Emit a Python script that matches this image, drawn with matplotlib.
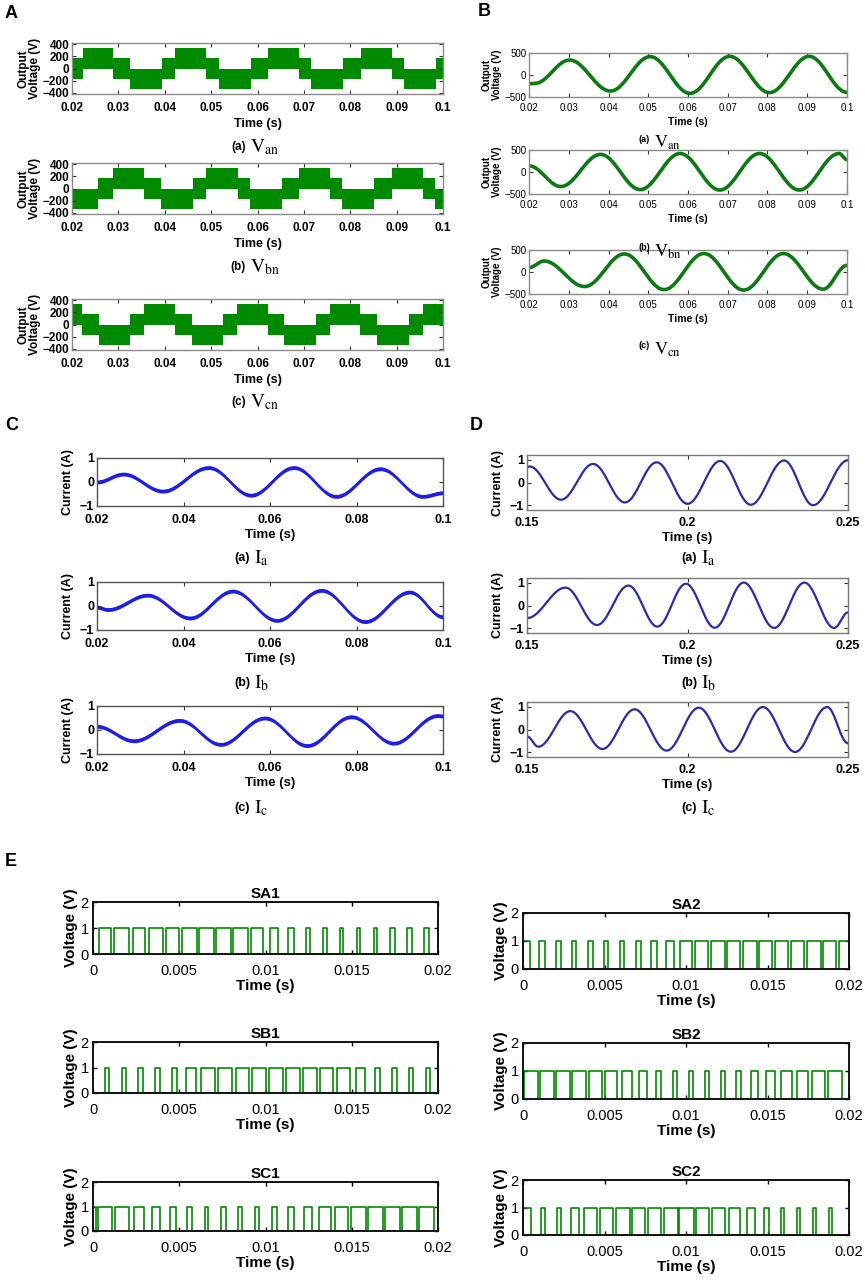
import numpy as np
import matplotlib.pyplot as plt

plt.rcParams['font.family'] = ['Liberation Sans', 'DejaVu Sans']
plt.rcParams['mathtext.fontset'] = 'stix'

W, H = 865, 1286
fig = plt.figure(figsize=(W / 100, H / 100), dpi=100)

# ---- data ------------------------------------------------------------------
# A: multilevel output, band state per segment (1 = top, 0 = middle, -1 = bottom)
band_low = {1: 0, 0: -175, -1: -335}
band_high = {1: 335, 0: 175, -1: 0}
van_edges = [0.02, 0.0223, 0.0289, 0.0325, 0.0393, 0.0422, 0.049, 0.0516, 0.0585,
             0.0623, 0.069, 0.0716, 0.0785, 0.0823, 0.089, 0.0916, 0.0985]
van_states = [0, 1, 0, -1, 0, 1, 0, -1, 0, 1, 0, -1, 0, 1, 0, -1, 0]
vbn_edges = [0.02, 0.0256, 0.0289, 0.0356, 0.0392, 0.046, 0.0489, 0.0557, 0.0583,
             0.0652, 0.069, 0.0757, 0.0783, 0.0852, 0.089, 0.0957, 0.0983]
vbn_states = [-1, 0, 1, 0, -1, 0, 1, 0, -1, 0, 1, 0, -1, 0, 1, 0, -1]
vcn_edges = [0.02, 0.0222, 0.0258, 0.0326, 0.0356, 0.0422, 0.0458, 0.0526, 0.0556,
             0.0622, 0.0658, 0.0726, 0.0756, 0.0822, 0.0858, 0.0926, 0.0956]
vcn_states = [1, 0, -1, 0, 1, 0, -1, 0, 1, 0, -1, 0, 1, 0, -1, 0, 1]

# B: filtered voltages, turning points (time, value)
b_van_t = [0.02, 0.0215, 0.0302, 0.0405, 0.0505, 0.0605, 0.0705, 0.0805, 0.0905, 0.1]
b_van_v = [-200, -190, 340, -365, 417, -417, 424, -400, 424, -394]
b_vbn_t = [0.02, 0.028, 0.038, 0.048, 0.058, 0.068, 0.078, 0.088, 0.098, 0.1]
b_vbn_v = [140, -330, 400, -400, 420, -410, 420, -410, 420, 280]
b_vcn_t = [0.02, 0.0238, 0.034, 0.044, 0.054, 0.064, 0.074, 0.084, 0.094, 0.1]
b_vcn_v = [100, 250, -330, 410, -400, 420, -410, 420, -390, 150]

# C: currents with ripple, turning points
c_ia_t = [0.02, 0.0261, 0.0352, 0.0458, 0.0556, 0.0655, 0.0753, 0.0855, 0.0953, 0.1]
c_ia_v = [0.0, 0.33, -0.38, 0.6, -0.55, 0.6, -0.6, 0.55, -0.6, -0.45]
c_ib_t = [0.02, 0.0225, 0.0317, 0.0415, 0.0514, 0.0616, 0.0719, 0.082, 0.0923, 0.1]
c_ib_v = [-0.05, -0.15, 0.45, -0.5, 0.62, -0.6, 0.65, -0.65, 0.58, -0.45]
c_ic_t = [0.02, 0.0285, 0.0391, 0.0486, 0.0588, 0.0686, 0.0788, 0.0886, 0.0988, 0.1]
c_ic_v = [0.15, -0.45, 0.4, -0.6, 0.5, -0.65, 0.55, -0.55, 0.6, 0.58]
c_ripple = 0.08

# D: steady-state currents, turning points
d_ia_t = [0.15, 0.1508, 0.1606, 0.1706, 0.1805, 0.1904, 0.2, 0.2102, 0.2197, 0.2301, 0.2391, 0.25]
d_ia_v = [0.67, 0.7, -0.75, 0.81, -0.87, 0.88, -0.93, 0.94, -0.97, 0.96, -0.99, 0.97]
d_ib_t = [0.15, 0.162, 0.1718, 0.1816, 0.1906, 0.1995, 0.2085, 0.2175, 0.227, 0.2364, 0.2457, 0.25]
d_ib_v = [-0.55, 0.78, -0.85, 0.87, -0.92, 0.95, -0.97, 1.0, -0.98, 1.0, -0.98, -0.3]
d_ic_t = [0.15, 0.1535, 0.1635, 0.1735, 0.1835, 0.1935, 0.2035, 0.2135, 0.2235, 0.2335, 0.2435, 0.25]
d_ic_v = [-0.3, -0.75, 0.8, -0.85, 0.88, -0.92, 0.95, -0.97, 0.98, -0.98, 0.98, -0.6]

# E: gate pulses, pulse widths in ms, one per carrier period
carrier = 0.00098
sa1_first, sa1_w = 0.0007, [0.67, 0.87, 0.68, 0.81, 0.77, 0.87, 0.86, 0.86, 0.87, 0.67,
                            0.5, 0.39, 0.25, 0.25, 0.19, 0.19, 0.19, 0.25, 0.29, 0.3]
sa2_first, sa2_w = 0.0002, [0.4, 0.4, 0.3, 0.22, 0.3, 0.27, 0.25, 0.3, 0.35, 0.5, 0.7,
                            0.8, 0.88, 0.8, 0.9, 0.8, 0.8, 0.8, 0.85, 0.8, 0.8]
sb1_first, sb1_w = 0.0008, [0.25, 0.25, 0.25, 0.25, 0.25, 0.58, 0.8, 0.8, 0.75, 0.8,
                            0.8, 0.8, 0.8, 0.8, 0.8, 0.55, 0.3, 0.3, 0.2, 0.25]
sb2_first, sb2_w = 0.0005, [0.85, 0.85, 0.85, 0.85, 0.8, 0.75, 0.6, 0.45, 0.3, 0.25,
                            0.22, 0.22, 0.25, 0.3, 0.45, 0.55, 0.65, 0.7, 0.8, 0.85]
sc1_first, sc1_w = -0.00028, [0.9, 0.85, 0.77, 0.62, 0.48, 0.35, 0.29, 0.23, 0.25, 0.23,
                              0.23, 0.29, 0.38, 0.48, 0.67, 0.77, 0.87, 0.9, 0.9, 0.9, 0.9]
sc2_first, sc2_w = 0.00025, [0.5, 0.3, 0.3, 0.5, 0.8, 0.8, 0.9, 0.8, 0.8, 0.9, 0.9, 0.8,
                             0.8, 0.7, 0.5, 0.3, 0.2, 0.2, 0.2, 0.2]

green = '#008a00'
dgreen = '#0b7a12'
blue = '#1e1ee6'
navy = '#2b2ba8'


def px_axes(x0, y0, x1, y1):
    return fig.add_axes([x0 / W, 1 - y1 / H, (x1 - x0) / W, (y1 - y0) / H])


def smooth(tk, vk, n=60):
    ts, vs = [], []
    for i in range(len(tk) - 1):
        s = np.linspace(0, 1, n, endpoint=False)
        ts.append(tk[i] + (tk[i + 1] - tk[i]) * s)
        vs.append(vk[i] + (vk[i + 1] - vk[i]) * (1 - np.cos(np.pi * s)) / 2)
    ts.append([tk[-1]])
    vs.append([vk[-1]])
    return np.concatenate(ts), np.concatenate(vs)


def pulses(first, widths, t_end=0.02):
    xs, ys = [0.0], [0.0]
    for k, w in enumerate(widths):
        c = first + k * carrier
        r = max(c - w * 5e-4, 0.0)
        f = min(c + w * 5e-4, t_end)
        xs += [r, r, f, f]
        ys += [0, 1, 1, 0]
    xs.append(t_end)
    ys.append(0)
    return xs, ys


def style(ax, edge, tick_size, xpad, weight='bold'):
    for s in ax.spines.values():
        s.set_color(edge)
        s.set_linewidth(1.0)
    ax.tick_params(direction='in', top=True, right=True, length=3, width=0.8,
                   color='#333333', labelsize=tick_size, pad=2)
    ax.tick_params(axis='x', pad=xpad)
    for lab in ax.get_xticklabels() + ax.get_yticklabels():
        lab.set_fontweight(weight)


def caption(x, y, tag, sym, sub, tag_size=8.5, sym_size=14, raise_tag=0):
    fig.text(x / W, 1 - (y - raise_tag) / H, tag, ha='right', va='center',
             fontsize=tag_size, fontweight='bold')
    fig.text((x + 4) / W, 1 - y / H, r'$\mathrm{' + sym + '}_{\mathrm{' + sub + '}}$',
             ha='left', va='center', fontsize=sym_size)


# ---- panel A ---------------------------------------------------------------
a_rows = [(43, 94, van_edges, van_states, '(a)', 'an', 147),
          (163, 214, vbn_edges, vbn_states, '(b)', 'bn', 267),
          (299, 350, vcn_edges, vcn_states, '(c)', 'cn', 402)]
for top, bot, edges, states, tag, sub, cy in a_rows:
    ax = px_axes(72, top, 443, bot)
    x = list(edges) + [0.1]
    lo = [band_low[s] for s in states] + [band_low[states[-1]]]
    hi = [band_high[s] for s in states] + [band_high[states[-1]]]
    ax.fill_between(x, lo, hi, step='post', color=green, lw=0)
    ax.set_xlim(0.02, 0.1)
    ax.set_ylim(-420, 420)
    ax.set_xticks([0.02, 0.03, 0.04, 0.05, 0.06, 0.07, 0.08, 0.09, 0.1])
    ax.set_xticklabels(['0.02', '0.03', '0.04', '0.05', '0.06', '0.07', '0.08', '0.09', '0.1'])
    ax.set_yticks([400, 200, 0, -200, -400])
    ax.set_ylabel('Output\nVoltage (V)', fontsize=8.5, fontweight='bold', labelpad=1,
                  linespacing=1.0)
    ax.set_xlabel('Time (s)', fontsize=9, fontweight='bold', labelpad=3)
    style(ax, '#8a8a8a', 8.5, 5.5)
    caption(246, cy, tag, 'V', sub)

# ---- panel B ---------------------------------------------------------------
b_rows = [(53, 97, b_van_t, b_van_v, '(a)', 'an', 143),
          (150, 194, b_vbn_t, b_vbn_v, '(b)', 'bn', 252),
          (250, 294, b_vcn_t, b_vcn_v, '(c)', 'cn', 350)]
for top, bot, tk, vk, tag, sub, cy in b_rows:
    ax = px_axes(529, top, 847, bot)
    t, v = smooth(tk, vk)
    ax.plot(t, v, color=dgreen, lw=2.6, solid_capstyle='butt')
    ax.set_xlim(0.02, 0.1)
    ax.set_ylim(-500, 500)
    ax.set_xticks([0.02, 0.03, 0.04, 0.05, 0.06, 0.07, 0.08, 0.09, 0.1])
    ax.set_xticklabels(['0.02', '0.03', '0.04', '0.05', '0.06', '0.07', '0.08', '0.09', '0.1'])
    ax.set_yticks([500, 0, -500])
    ax.set_ylabel('Output\nVoltage (V)', fontsize=7, fontweight='bold', labelpad=2,
                  linespacing=1.0)
    ax.set_xlabel('Time (s)', fontsize=7.5, fontweight='bold', labelpad=3)
    style(ax, '#8a8a8a', 7, 4, weight='normal')
    caption(650, cy, tag, 'V', sub, tag_size=6.5, sym_size=13, raise_tag=4)

# ---- panel C ---------------------------------------------------------------
c_rows = [(458, 506, c_ia_t, c_ia_v, '(a)', 'a', 558),
          (582, 630, c_ib_t, c_ib_v, '(b)', 'b', 683),
          (706, 754, c_ic_t, c_ic_v, '(c)', 'c', 808)]
for top, bot, tk, vk, tag, sub, cy in c_rows:
    ax = px_axes(97, top, 443, bot)
    t, v = smooth(tk, vk)
    ax.fill_between(t, v - c_ripple, v + c_ripple, color=blue, lw=0)
    ax.plot(t, v, color=blue, lw=1.5)
    ax.set_xlim(0.02, 0.1)
    ax.set_ylim(-1, 1)
    ax.set_xticks([0.02, 0.04, 0.06, 0.08, 0.1])
    ax.set_xticklabels(['0.02', '0.04', '0.06', '0.08', '0.1'])
    ax.set_yticks([1, 0, -1])
    ax.set_ylabel('Current (A)', fontsize=9, fontweight='bold', labelpad=4)
    ax.set_xlabel('Time (s)', fontsize=9.5, fontweight='bold', labelpad=2)
    style(ax, '#555555', 9, 6)
    caption(250, cy, tag, 'I', sub, tag_size=9, sym_size=14)

# ---- panel D ---------------------------------------------------------------
d_rows = [(455, 510, d_ia_t, d_ia_v, '(a)', 'a', 558),
          (578, 633, d_ib_t, d_ib_v, '(b)', 'b', 683),
          (702, 757, d_ic_t, d_ic_v, '(c)', 'c', 808)]
for top, bot, tk, vk, tag, sub, cy in d_rows:
    ax = px_axes(527, top, 848, bot)
    t, v = smooth(tk, vk)
    ax.plot(t, v, color=navy, lw=1.6)
    ax.set_xlim(0.15, 0.25)
    ax.set_ylim(-1.2, 1.2)
    ax.set_xticks([0.15, 0.2, 0.25])
    ax.set_xticklabels(['0.15', '0.2', '0.25'])
    ax.set_yticks([1, 0, -1])
    ax.set_ylabel('Current (A)', fontsize=9, fontweight='bold', labelpad=4)
    ax.set_xlabel('Time (s)', fontsize=9.5, fontweight='bold', labelpad=2)
    style(ax, '#777777', 9, 5)
    caption(697, cy, tag, 'I', sub, tag_size=9, sym_size=14)

# ---- panel E ---------------------------------------------------------------
e_rows = [(93, 438, 902, 954, sa1_first, sa1_w, 'SA1'),
          (93, 438, 1042, 1093, sb1_first, sb1_w, 'SB1'),
          (93, 438, 1182, 1231, sc1_first, sc1_w, 'SC1'),
          (523, 849, 913, 969, sa2_first, sa2_w, 'SA2'),
          (523, 849, 1043, 1099, sb2_first, sb2_w, 'SB2'),
          (523, 849, 1180, 1235, sc2_first, sc2_w, 'SC2')]
for x0, x1, top, bot, first, widths, name in e_rows:
    ax = px_axes(x0, top, x1, bot)
    xs, ys = pulses(first, widths)
    ax.plot(xs, ys, color=green, lw=1.2, clip_on=False)
    ax.set_xlim(0, 0.02)
    ax.set_ylim(0, 2)
    ax.set_xticks([0, 0.005, 0.01, 0.015, 0.02])
    ax.set_xticklabels(['0', '0.005', '0.01', '0.015', '0.02'])
    ax.set_yticks([0, 1, 2])
    ax.set_title(name, fontsize=11, fontweight='bold', pad=3)
    ax.set_ylabel('Voltage (V)', fontsize=11, fontweight='bold', labelpad=2)
    ax.set_xlabel('Time (s)', fontsize=11, fontweight='bold', labelpad=1)
    for s in ax.spines.values():
        s.set_color('#111111')
        s.set_linewidth(1.4)
    ax.tick_params(direction='in', top=True, right=True, length=3, width=1,
                   labelsize=10.5, pad=3)
    ax.tick_params(axis='x', pad=7)

# panel letters
for lx, ly, letter in [(5, 13, 'A'), (478, 12, 'B'), (5, 425, 'C'), (470, 425, 'D'),
                       (5, 862, 'E')]:
    fig.text(lx / W, 1 - ly / H, letter, fontsize=13, fontweight='bold', va='center')

fig.savefig('out.png', dpi=100)
